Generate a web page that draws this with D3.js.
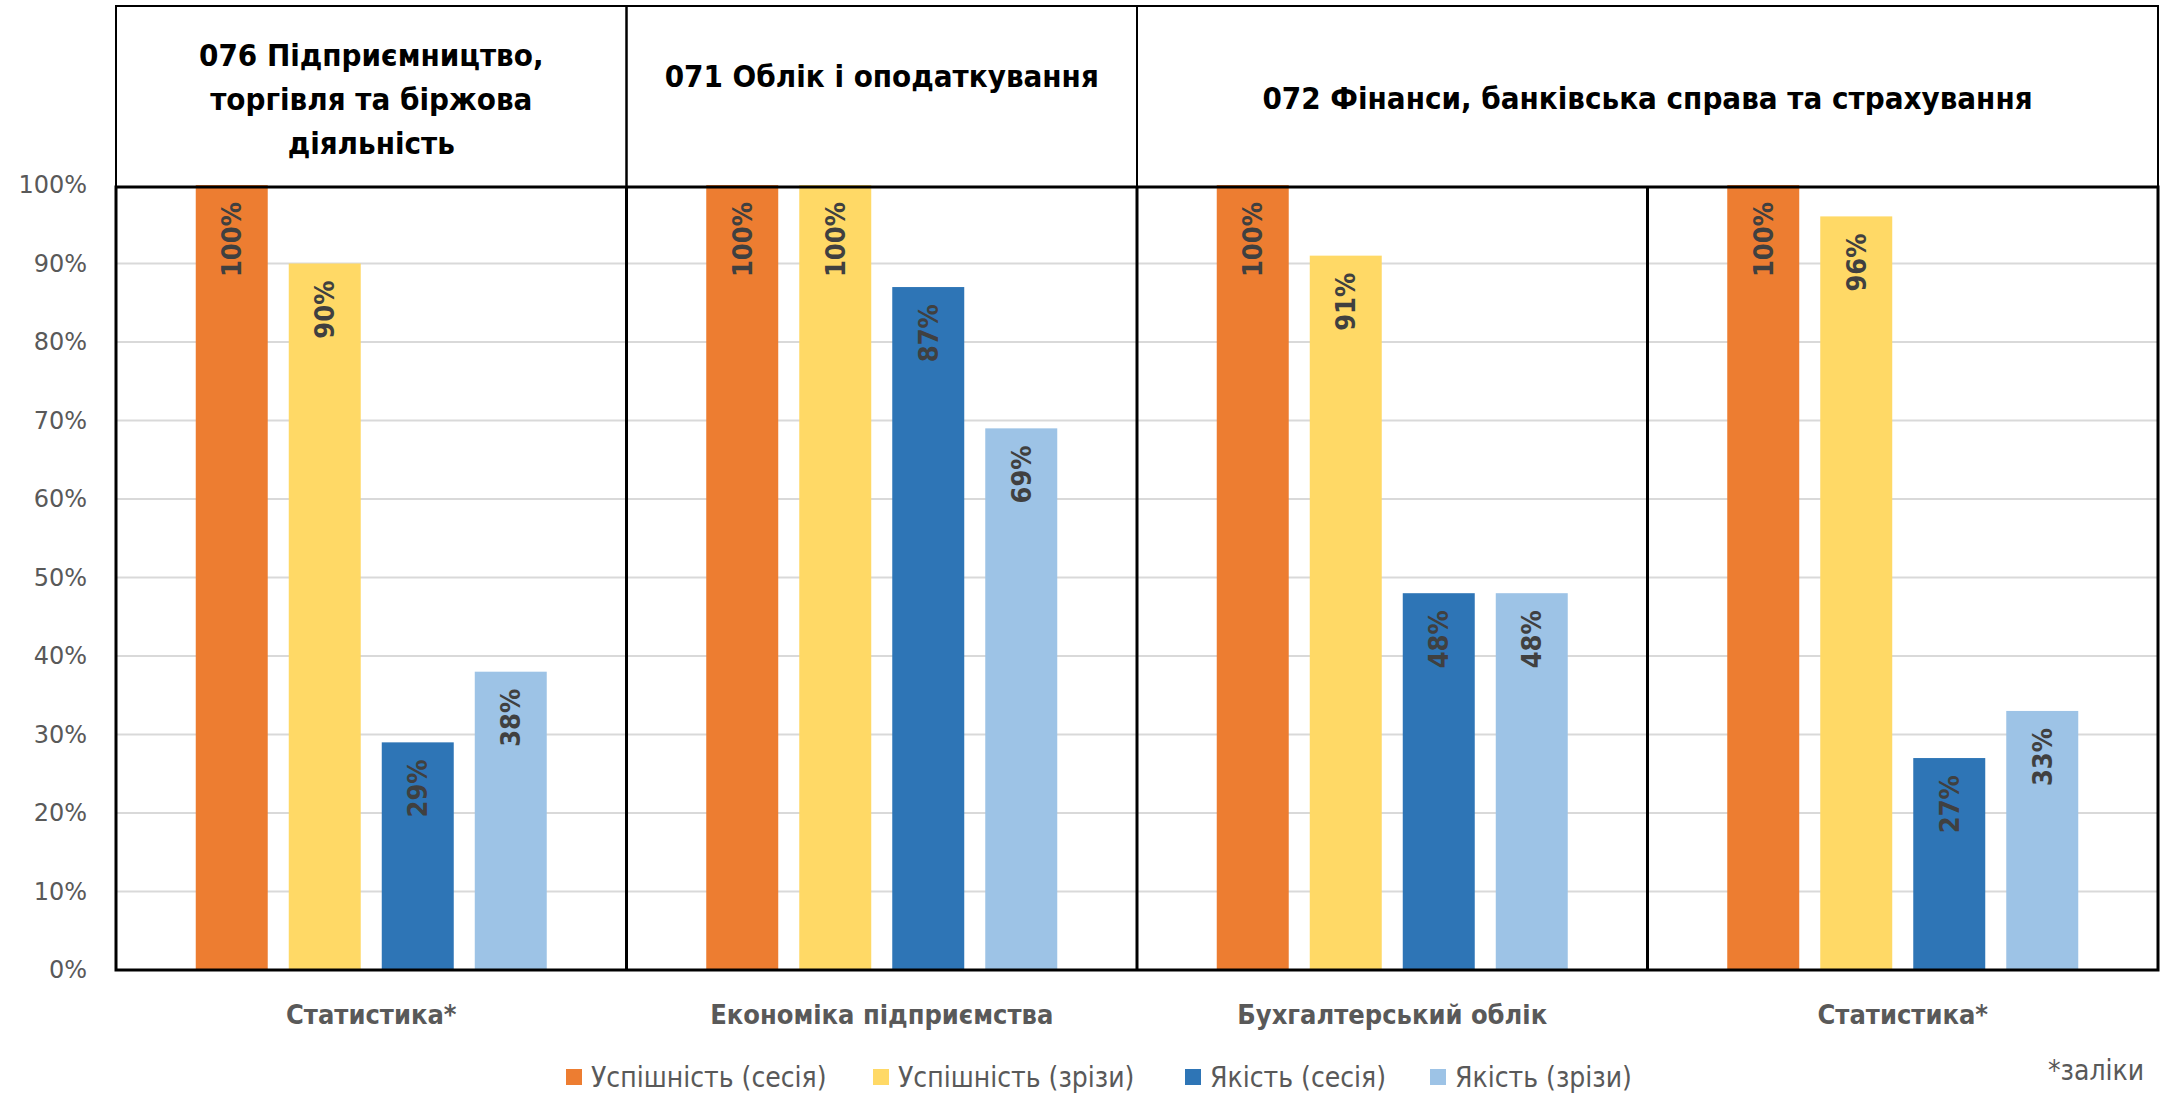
<!DOCTYPE html>
<html>
<head>
<meta charset="utf-8">
<script src="https://cdn.jsdelivr.net/npm/d3@7"></script>
<style>
    body { margin: 0; background: #fff; }
    svg text { font-family: "Liberation Sans Narrow", "DejaVu Sans Condensed", "Noto Sans", sans-serif; }
</style>
</head>
<body>
<div id="chart"></div>
<script>
// subjects (x axis categories), one panel each
const subjects = ["Статистика*", "Економіка підприємства", "Бухгалтерський облік", "Статистика*"];

// series
const seriesNames = ["Успішність (сесія)", "Успішність (зрізи)", "Якість (сесія)", "Якість (зрізи)"];
const seriesColors = ["#ED7D31", "#FFD966", "#2E75B6", "#9DC3E6"];
const successSession = [100, 100, 100, 100];
const successCheck = [90, 100, 91, 96];
const qualitySession = [29, 87, 48, 27];
const qualityCheck = [38, 69, 48, 33];

// specialty headers, with the subjects (by index) they cover
const specialtyLines = [
    ["076 Підприємництво,", "торгівля та біржова", "діяльність"],
    ["071 Облік і оподаткування"],
    ["072 Фінанси, банківська справа та страхування"]
];
const specialtySpans = [[0, 0], [1, 1], [2, 3]];

const yTicks = [0, 10, 20, 30, 40, 50, 60, 70, 80, 90, 100];
const footnote = "*заліки";

// ---- layout
const W = 2165, H = 1093;
const margin = {left: 116, right: 7};
const headerTop = 6, plotTop = 187, plotBottom = 970;
const headerTextY = [99, 76, 98];   // vertical centre of each header block
const headerLineH = 44;

const svg = d3.select("#chart").append("svg")
    .attr("width", W)
    .attr("height", H);

const idx = d3.range(subjects.length);
const x0 = d3.scaleBand()
    .domain(idx)
    .range([margin.left, W - margin.right])
    .padding(0);

const x1 = d3.scaleBand()
    .domain(d3.range(seriesNames.length))
    .range([-175.5, 175.5])
    .paddingInner(0.226);

const y = d3.scaleLinear()
    .domain([0, 100])
    .range([plotBottom, plotTop - 2]);

// gridlines
svg.append("g")
    .selectAll("line")
    .data(yTicks.filter(d => d > 0 && d < 100))
  .enter().append("line")
    .attr("x1", margin.left)
    .attr("x2", W - margin.right)
    .attr("y1", d => y(d))
    .attr("y2", d => y(d))
    .style("stroke", "#d9d9d9")
    .style("stroke-width", 2);

// y axis (labels only)
const yAxis = d3.axisLeft(y)
    .tickValues(yTicks)
    .tickSize(0)
    .tickPadding(0)
    .tickFormat(d => d + "%");
svg.append("g")
    .attr("transform", "translate(" + (margin.left - 29) + ",0)")
    .call(yAxis)
    .call(g => g.select(".domain").remove())
    .selectAll("text")
    .style("font-family", "'DejaVu Sans', sans-serif")
    .style("font-size", "24px")
    .style("fill", "#595959");

// bars
const allValues = [successSession, successCheck, qualitySession, qualityCheck];
const groups = svg.append("g")
    .selectAll("g")
    .data(idx)
  .enter().append("g")
    .attr("transform", d => "translate(" + (x0(d) + x0.bandwidth() / 2) + ",0)");

groups.selectAll("rect")
    .data(i => allValues.map((vals, s) => ({s: s, v: vals[i]})))
  .enter().append("rect")
    .attr("x", d => x1(d.s))
    .attr("width", x1.bandwidth())
    .attr("y", d => y(d.v))
    .attr("height", d => y(0) - y(d.v))
    .style("fill", d => seriesColors[d.s]);

// value labels, rotated, inside top of bar
groups.selectAll("text")
    .data(i => allValues.map((vals, s) => ({s: s, v: vals[i]})))
  .enter().append("text")
    .attr("transform", d => "translate(" + (x1(d.s) + x1.bandwidth() / 2) + "," + (y(d.v) + 17) + ") rotate(-90)")
    .attr("dy", "0.35em")
    .style("text-anchor", "end")
    .style("font-weight", "bold")
    .style("font-size", "27px")
    .style("fill", "#404040")
    .text(d => d.v + "%");

// plot frame and panel dividers
const frame = svg.append("g")
    .style("stroke", "#000")
    .style("fill", "none");
frame.append("rect")
    .attr("x", margin.left)
    .attr("y", plotTop)
    .attr("width", W - margin.right - margin.left)
    .attr("height", plotBottom - plotTop)
    .style("stroke-width", 3);
frame.selectAll("line.div")
    .data(idx.slice(1))
  .enter().append("line")
    .attr("class", "div")
    .attr("x1", d => x0(d))
    .attr("x2", d => x0(d))
    .attr("y1", plotTop)
    .attr("y2", plotBottom)
    .style("stroke-width", 3);

// header boxes
const header = svg.append("g");
header.selectAll("rect")
    .data(specialtySpans)
  .enter().append("rect")
    .attr("x", d => x0(d[0]))
    .attr("y", headerTop)
    .attr("width", d => x0(d[1]) + x0.bandwidth() - x0(d[0]))
    .attr("height", plotTop - headerTop)
    .style("fill", "none")
    .style("stroke", "#000")
    .style("stroke-width", 2);

header.selectAll("text")
    .data(specialtyLines)
  .enter().append("text")
    .attr("x", (d, i) => (x0(specialtySpans[i][0]) + x0(specialtySpans[i][1]) + x0.bandwidth()) / 2)
    .attr("y", (d, i) => headerTextY[i] - (d.length - 1) * headerLineH / 2)
    .style("text-anchor", "middle")
    .style("font-weight", "bold")
    .style("font-size", "31px")
    .style("fill", "#000")
    .each(function(lines) {
        const t = d3.select(this);
        lines.forEach((ln, k) => {
            t.append("tspan")
                .attr("x", t.attr("x"))
                .attr("dy", k === 0 ? "0.35em" : headerLineH)
                .text(ln);
        });
    });

// category labels
const xAxis = d3.axisBottom(x0)
    .tickSize(0)
    .tickPadding(0)
    .tickFormat(i => subjects[i]);
svg.append("g")
    .attr("transform", "translate(0," + 1015 + ")")
    .call(xAxis)
    .call(g => g.select(".domain").remove())
    .selectAll("text")
    .attr("dy", "0.35em")
    .style("font-family", null)
    .style("font-weight", "bold")
    .style("font-size", "27px")
    .style("fill", "#595959");

// legend
const legendX = [566, 873, 1185, 1430];
const legend = svg.append("g")
    .selectAll("g")
    .data(seriesNames)
  .enter().append("g")
    .attr("transform", (d, i) => "translate(" + legendX[i] + ",1077)");
legend.append("rect")
    .attr("x", 0)
    .attr("y", -8)
    .attr("width", 16)
    .attr("height", 16)
    .style("fill", (d, i) => seriesColors[i]);
legend.append("text")
    .attr("x", 25)
    .attr("dy", "0.35em")
    .style("font-size", "28px")
    .style("fill", "#595959")
    .text(d => d);

// footnote in the bottom-right corner
svg.append("text")
    .attr("x", 2048)
    .attr("y", 1080)
    .style("font-size", "28px")
    .style("fill", "#595959")
    .text(footnote);
</script>
</body>
</html>
